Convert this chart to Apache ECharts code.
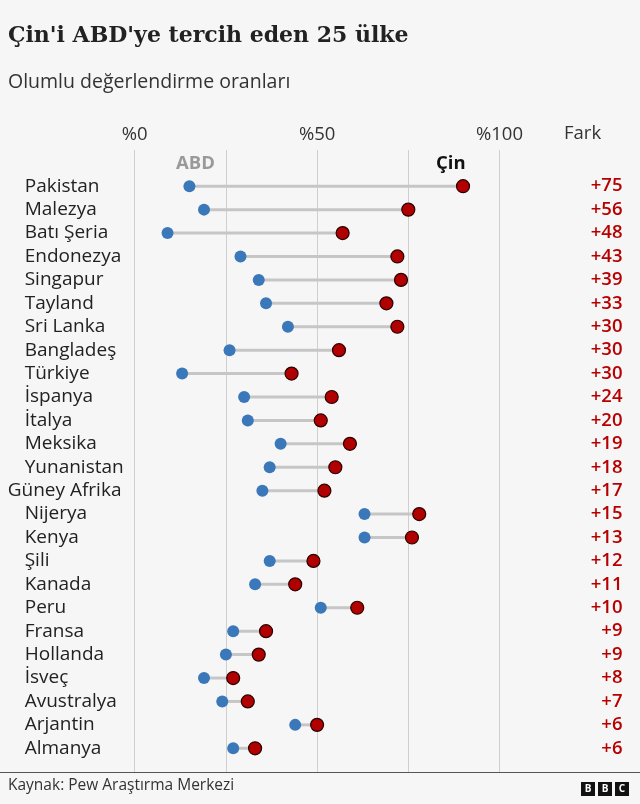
<!DOCTYPE html>
<html>
<head>
<meta charset="utf-8">
<script src="https://cdn.jsdelivr.net/npm/echarts@6/dist/echarts.min.js"></script>
<style>
  html, body { margin: 0; padding: 0; background: #f6f6f6; }
  #main { width: 640px; height: 804px; }
</style>
</head>
<body>
<div id="main"></div>
<script>
// Pew: olumlu değerlendirme (%), ABD ve Çin
var countries = ['Pakistan', 'Malezya', 'Batı Şeria', 'Endonezya', 'Singapur', 'Tayland', 'Sri Lanka',
  'Bangladeş', 'Türkiye', 'İspanya', 'İtalya', 'Meksika', 'Yunanistan', 'Güney Afrika', 'Nijerya',
  'Kenya', 'Şili', 'Kanada', 'Peru', 'Fransa', 'Hollanda', 'İsveç', 'Avustralya', 'Arjantin', 'Almanya'];
var usa = [15, 19, 9, 29, 34, 36, 42, 26, 13, 30, 31, 40, 37, 35, 63, 63, 37, 33, 51, 27, 25, 19, 24, 44, 27];
var china = [90, 75, 57, 72, 73, 69, 72, 56, 43, 54, 51, 59, 55, 52, 78, 76, 49, 44, 61, 36, 34, 27, 31, 50, 33];
var xTicks = [0, 50, 100];

var font = '"Open Sans", sans-serif';
var diffs = countries.map(function (c, i) { return '+' + (china[i] - usa[i]); });

var chart = echarts.init(document.getElementById('main'));

var option = {
  backgroundColor: '#f6f6f6',
  animation: false,
  title: [
    {
      text: "Çin'i ABD'ye tercih eden 25 ülke",
      left: 3, top: 20,
      textStyle: { fontFamily: '"DejaVu Serif", serif', fontSize: 22, fontWeight: 'bold', color: '#222' }
    },
    {
      text: 'Olumlu değerlendirme oranları',
      left: 3, top: 67,
      textStyle: { fontFamily: font, fontSize: 19.5, fontWeight: 'normal', color: '#333' }
    }
  ],
  grid: [
    { left: 134.7, right: 140.5, top: 150, bottom: 32 },
    { left: 134.7, right: 140.5, top: 174.5, bottom: 44 }
  ],
  xAxis: [
    {
      gridIndex: 0, type: 'value', min: 0, max: 100, interval: 25, position: 'top',
      axisLine: { show: false }, axisTick: { show: false },
      splitLine: { show: true, lineStyle: { color: '#cfcfcf', width: 1 } },
      axisLabel: {
        margin: 6, fontFamily: font, fontSize: 18.5, color: '#333',
        formatter: function (v) { return xTicks.indexOf(v) >= 0 ? '%' + v : ''; }
      }
    },
    { gridIndex: 1, type: 'value', min: 0, max: 100, show: false }
  ],
  yAxis: [
    { gridIndex: 0, type: 'value', show: false },
    {
      gridIndex: 1, type: 'category', inverse: true, data: countries,
      axisLine: { show: false }, axisTick: { show: false }, splitLine: { show: false },
      axisLabel: {
        interval: 0, align: 'left', margin: 110, fontFamily: font, fontSize: 19, color: '#222',
        formatter: function (v) { return v === 'Güney Afrika' ? '{w|' + v + '}' : v; },
        rich: { w: { fontFamily: font, fontSize: 19, color: '#222', padding: [0, 0, 0, -17] } }
      }
    },
    {
      gridIndex: 1, type: 'category', inverse: true, position: 'right', data: diffs,
      axisLine: { show: false }, axisTick: { show: false }, splitLine: { show: false },
      axisLabel: { interval: 0, align: 'right', margin: 123, fontFamily: font, fontSize: 18.5, fontWeight: 600, color: '#b80000' }
    }
  ],
  series: [
    {
      type: 'custom', xAxisIndex: 1, yAxisIndex: 1, silent: true,
      data: countries.map(function (c, i) { return [usa[i], china[i], i]; }),
      encode: { x: [0, 1], y: 2 },
      renderItem: function (params, api) {
        var a = api.coord([api.value(0), api.value(2)]);
        var b = api.coord([api.value(1), api.value(2)]);
        return {
          type: 'line',
          shape: { x1: a[0], y1: a[1], x2: b[0], y2: b[1] },
          style: { stroke: '#c6c6c6', lineWidth: 3 }
        };
      }
    },
    {
      name: 'ABD', type: 'scatter', xAxisIndex: 1, yAxisIndex: 1, symbolSize: 12, z: 3,
      itemStyle: { color: '#3a78b9', opacity: 1 },
      data: countries.map(function (c, i) { return [usa[i], i]; })
    },
    {
      name: 'Çin', type: 'scatter', xAxisIndex: 1, yAxisIndex: 1, symbolSize: 13, z: 4,
      itemStyle: { color: '#b00000', borderColor: '#2a0000', borderWidth: 1.2, opacity: 1 },
      data: countries.map(function (c, i) { return [china[i], i]; })
    }
  ],
  graphic: [
    { type: 'text', left: 176, top: 154, style: { text: 'ABD', font: 'bold 18.5px "Open Sans"', fill: '#9a9a9a' } },
    { type: 'text', left: 436, top: 154, style: { text: 'Çin', font: 'bold 18.5px "Open Sans"', fill: '#111' } },
    { type: 'text', left: 564, top: 124, style: { text: 'Fark', font: '18.5px "Open Sans"', fill: '#333' } },
    { type: 'line', shape: { x1: 0, y1: 772.5, x2: 640, y2: 772.5 }, style: { stroke: '#555', lineWidth: 1 } },
    { type: 'text', left: 8, top: 778, style: { text: 'Kaynak: Pew Araştırma Merkezi', font: '15.5px "Open Sans"', fill: '#333' } },
    {
      type: 'group', left: 581, top: 782,
      children: ['B', 'B', 'C'].map(function (ch, k) {
        return {
          type: 'group', x: k * 17,
          children: [
            { type: 'rect', shape: { x: 0, y: 0, width: 14, height: 14 }, style: { fill: '#111' } },
            { type: 'text', x: 7, y: 7, style: { text: ch, font: 'bold 10px "Open Sans"', fill: '#fff', align: 'center', verticalAlign: 'middle' } }
          ]
        };
      })
    }
  ]
};

option && chart.setOption(option);
</script>
</body>
</html>
